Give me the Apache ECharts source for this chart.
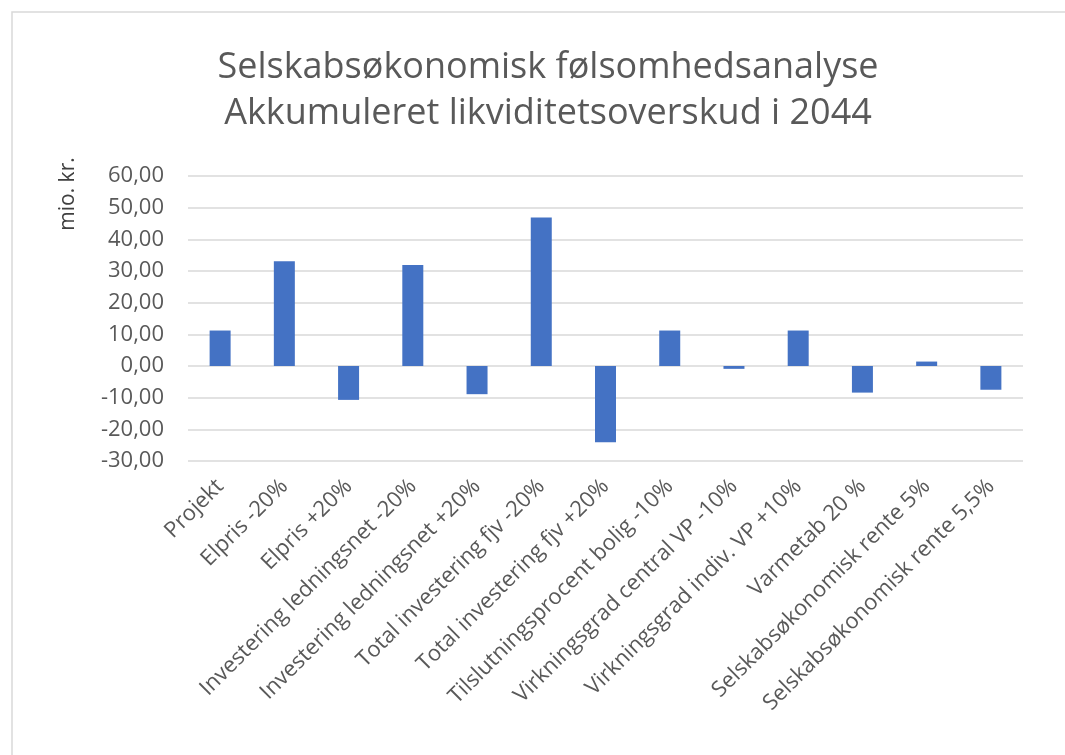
<!DOCTYPE html>
<html>
<head>
    <meta charset="UTF-8">
    <title>Selskabsøkonomisk følsomhedsanalyse</title>
    <style>
        html, body { margin: 0; padding: 0; width: 100%; height: 100%; overflow: hidden; background: #fff; }
        #main { width: 1065px; height: 755px; }
    </style>
    <script src="https://cdn.jsdelivr.net/npm/echarts@6/dist/echarts.min.js"></script>
</head>
<body>
    <div id="main"></div>
    <script>
        const categories = [
            'Projekt', 'Elpris -20%', 'Elpris +20%', 'Investering ledningsnet -20%',
            'Investering ledningsnet +20%', 'Total investering fjv -20%', 'Total investering fjv +20%',
            'Tilslutningsprocent bolig -10%', 'Virkningsgrad central VP -10%', 'Virkningsgrad indiv. VP +10%',
            'Varmetab 20 %', 'Selskabsøkonomisk rente 5%', 'Selskabsøkonomisk rente 5,5%'
        ];
        const values = [11.2, 33.1, -10.7, 31.9, -8.9, 46.9, -24.1, 11.2, -0.9, 11.2, -8.4, 1.4, -7.5];
        const yMin = -30, yMax = 60, yStep = 10;

        const chart = echarts.init(document.getElementById('main'));
        const textColor = '#595959';
        const font = '"Open Sans", "Noto Sans", sans-serif';

        chart.setOption({
            animation: false,
            title: {
                text: 'Selskabsøkonomisk følsomhedsanalyse\nAkkumuleret likviditetsoverskud i 2044',
                left: 543,
                textAlign: 'center',
                top: 40,
                textStyle: { color: textColor, fontFamily: font, fontWeight: 'normal', fontSize: 36, lineHeight: 46 }
            },
            graphic: [
                { type: 'rect', shape: { x: 12, y: 12, width: 1080, height: 760 }, style: { fill: 'none', stroke: '#d9d9d9', lineWidth: 1.5 }, silent: true },
                { type: 'text', x: 68, y: 194, rotation: Math.PI / 2,
                  style: { text: 'mio. kr.', fill: '#404040', font: '21px "Open Sans", sans-serif', align: 'center', verticalAlign: 'middle' } }
            ],
            grid: { left: 188, right: 42, top: 176, bottom: 294 },
            xAxis: {
                type: 'category',
                data: categories,
                axisLine: { show: false },
                axisTick: { show: false },
                axisLabel: { rotate: 45, interval: 0, color: textColor, fontFamily: font, fontSize: 22, margin: 22 }
            },
            yAxis: {
                type: 'value',
                min: yMin, max: yMax, interval: yStep,
                axisLine: { show: false },
                axisTick: { show: false },
                axisLabel: {
                    color: textColor, fontFamily: font, fontSize: 22, margin: 24,
                    formatter: v => v.toFixed(2).replace('.', ',')
                },
                splitLine: { lineStyle: { color: '#d9d9d9', width: 1.5 } }
            },
            series: [{
                type: 'bar',
                data: values,
                barWidth: 21,
                itemStyle: { color: '#4472C4' }
            }]
        });
    </script>
</body>
</html>
